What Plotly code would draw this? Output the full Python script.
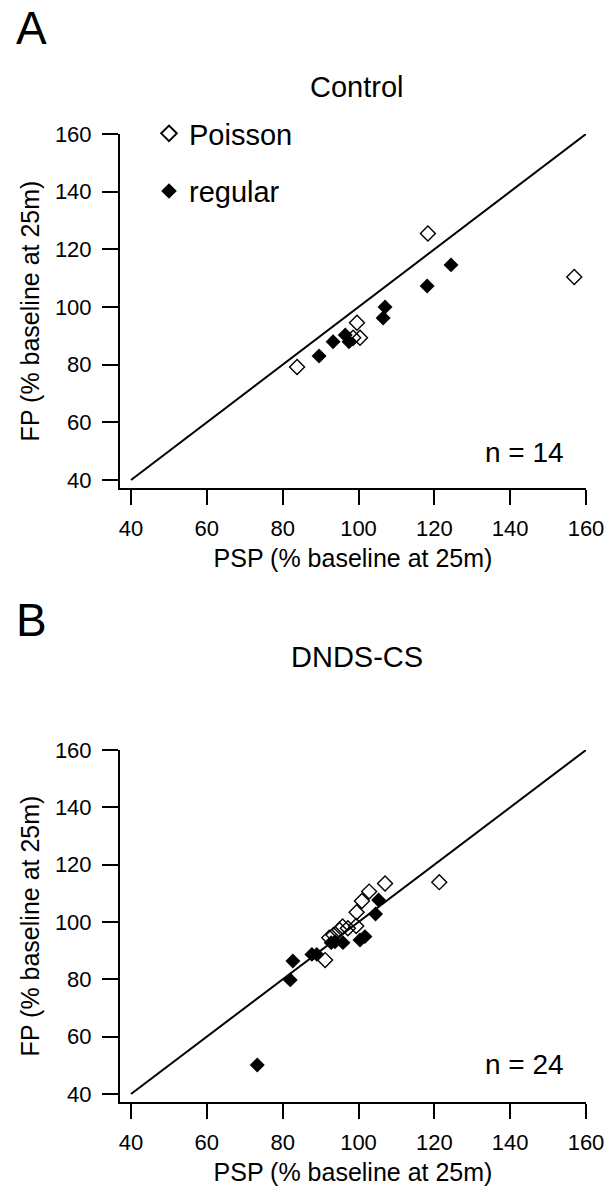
import plotly.graph_objects as go

# ---------------- data ----------------
tick_vals = [40, 60, 80, 100, 120, 140, 160]
unity = [40, 160]

# Panel A (Control)
psp_a_poisson = [83.8, 98.6, 100.4, 99.6, 118.3, 156.9]
fp_a_poisson = [79.2, 89.3, 89.3, 94.5, 125.5, 110.4]
psp_a_regular = [89.6, 93.3, 96.5, 97.5, 106.5, 107.0, 118.1, 124.4]
fp_a_regular = [83.0, 87.9, 90.3, 87.9, 96.2, 100.0, 107.3, 114.6]

# Panel B (DNDS-CS)
psp_b_poisson = [121.3, 107.0, 102.8, 100.9, 99.5, 99.4, 95.8, 95.0, 93.4, 92.3, 91.2, 97.2]
fp_b_poisson = [113.9, 113.4, 110.6, 107.3, 103.4, 98.6, 98.4, 97.2, 95.5, 94.5, 86.7, 97.8]
psp_b_regular = [105.3, 104.5, 100.4, 101.7, 93.8, 95.9, 87.7, 89.0, 82.7, 82.0, 73.3, 92.8]
fp_b_regular = [107.7, 102.8, 93.7, 94.9, 93.1, 92.8, 88.7, 88.7, 86.4, 79.8, 50.1, 92.8]

W, H = 610, 1200
FONT = "Liberation Sans, Arial, Helvetica, sans-serif"

fig = go.Figure()

open_marker = dict(symbol="diamond-open", size=11.5, color="black", line=dict(width=1.4, color="black"))
filled_marker = dict(symbol="diamond", size=11.5, color="black", line=dict(width=0))

# Panel A
fig.add_trace(go.Scatter(x=unity, y=unity, mode="lines", line=dict(color="black", width=2),
                         showlegend=False, xaxis="x", yaxis="y", hoverinfo="skip"))
fig.add_trace(go.Scatter(x=psp_a_poisson, y=fp_a_poisson, mode="markers", name="Poisson",
                         marker=open_marker, xaxis="x", yaxis="y", legendgroup="p", cliponaxis=False))
fig.add_trace(go.Scatter(x=psp_a_regular, y=fp_a_regular, mode="markers", name="regular",
                         marker=filled_marker, xaxis="x", yaxis="y", legendgroup="r", cliponaxis=False))
# Panel B
fig.add_trace(go.Scatter(x=unity, y=unity, mode="lines", line=dict(color="black", width=2),
                         showlegend=False, xaxis="x2", yaxis="y2", hoverinfo="skip"))
fig.add_trace(go.Scatter(x=psp_b_poisson, y=fp_b_poisson, mode="markers", name="Poisson",
                         marker=open_marker, xaxis="x2", yaxis="y2", showlegend=False, cliponaxis=False))
fig.add_trace(go.Scatter(x=psp_b_regular, y=fp_b_regular, mode="markers", name="regular",
                         marker=filled_marker, xaxis="x2", yaxis="y2", showlegend=False, cliponaxis=False))

def xax(anchor):
    return dict(domain=[120 / W, 586 / W], range=[37.1, 160], anchor=anchor, automargin=False,
                tickvals=tick_vals, ticks="outside", ticklen=15, tickwidth=2, tickcolor="black",
                showline=True, linewidth=2, linecolor="black", showgrid=False, zeroline=False,
                tickfont=dict(size=22, color="black", family=FONT), ticklabelstandoff=5,
                title=dict(text="PSP (% baseline at 25m)", font=dict(size=25, color="black", family=FONT),
                           standoff=9))

def yax(anchor, top_px, bot_px):
    return dict(domain=[1 - bot_px / H, 1 - top_px / H], range=[37.2, 160], anchor=anchor,
                automargin=False,
                tickvals=tick_vals, ticks="outside", ticklen=16, tickwidth=2, tickcolor="black",
                showline=True, linewidth=2, linecolor="black", showgrid=False, zeroline=False,
                tickfont=dict(size=22, color="black", family=FONT), ticklabelstandoff=6,
                title=dict(text="FP (% baseline at 25m)", font=dict(size=25, color="black", family=FONT),
                           standoff=8))

fig.update_layout(
    width=W, height=H,
    margin=dict(l=0, r=0, t=0, b=0, autoexpand=False),
    paper_bgcolor="white", plot_bgcolor="white",
    font=dict(family=FONT, color="black"),
    xaxis=xax("y"), yaxis=yax("x", 134, 488),
    xaxis2=xax("y2"), yaxis2=yax("x2", 750, 1102),
    showlegend=True,
    legend=dict(x=149 / W, y=1 - 108 / H, xanchor="left", yanchor="top",
                font=dict(size=29, color="black", family=FONT), tracegroupgap=17,
                bgcolor="rgba(0,0,0,0)", itemsizing="constant"),
    annotations=[
        dict(text="A", x=14 / W, y=1 - 28 / H, xref="paper", yref="paper", showarrow=False,
             xanchor="left", yanchor="middle", font=dict(size=46, color="black", family=FONT)),
        dict(text="B", x=14 / W, y=1 - 620 / H, xref="paper", yref="paper", showarrow=False,
             xanchor="left", yanchor="middle", font=dict(size=46, color="black", family=FONT)),
        dict(text="Control", x=357 / W, y=1 - 87 / H, xref="paper", yref="paper", showarrow=False,
             xanchor="center", yanchor="middle", font=dict(size=29, color="black", family=FONT)),
        dict(text="DNDS-CS", x=357 / W, y=1 - 657 / H, xref="paper", yref="paper", showarrow=False,
             xanchor="center", yanchor="middle", font=dict(size=29, color="black", family=FONT)),
        dict(text="n = 14", x=566 / W, y=1 - 453 / H, xref="paper", yref="paper", showarrow=False,
             xanchor="right", yanchor="middle", font=dict(size=28, color="black", family=FONT)),
        dict(text="n = 24", x=566 / W, y=1 - 1064 / H, xref="paper", yref="paper", showarrow=False,
             xanchor="right", yanchor="middle", font=dict(size=28, color="black", family=FONT)),
    ],
)

fig.write_html("out.html", config={"displayModeBar": False},
               post_script="document.body.style.margin='0';document.body.style.overflow='hidden';")
